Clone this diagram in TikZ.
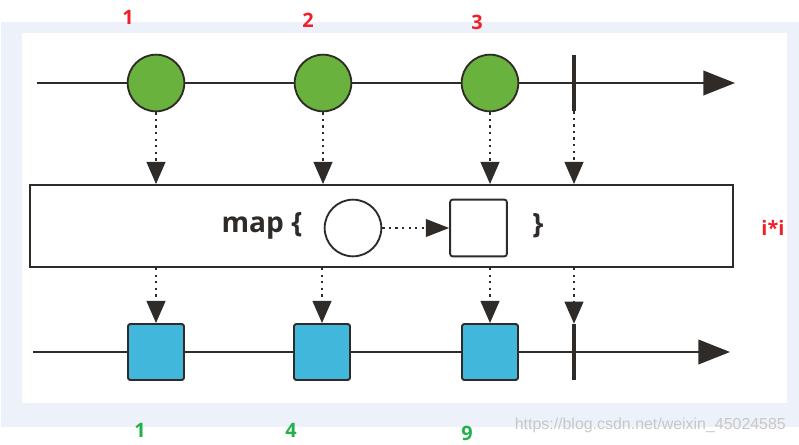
\documentclass[tikz,border=0pt]{standalone}
\usepackage{fontspec}
\setmainfont{Open Sans}
\newfontfamily\wmfont{Liberation Sans}
\usetikzlibrary{arrows.meta}

\definecolor{framebg}{HTML}{EDF2FA}
\definecolor{ink}{HTML}{2F2B28}
\definecolor{marblegreen}{HTML}{6AB23E}
\definecolor{itemblue}{HTML}{42B7DC}
\definecolor{numred}{HTML}{F0202A}
\definecolor{numgreen}{HTML}{22B14C}

\tikzset{
  timeline/.style={ink, line width=1.6pt, -{Triangle[length=27pt,width=21pt]}},
  flow/.style={ink, line width=2pt, dash pattern=on 2pt off 3.6pt, -{Triangle[length=19pt,width=16pt]}},
  marble/.style={circle, draw=ink, line width=1.6pt, fill=marblegreen, minimum size=1.7cm, inner sep=0pt},
  item/.style={rectangle, rounded corners=2pt, draw=ink, line width=1.6pt, fill=itemblue, minimum size=1.68cm, inner sep=0pt},
  stopbar/.style={rectangle, fill=ink, minimum width=4pt, minimum height=1.68cm, inner sep=0pt},
  toplabel/.style={text=numred, font=\fontsize{17}{20}\selectfont\bfseries},
  botlabel/.style={text=numgreen, font=\fontsize{17}{20}\selectfont\bfseries}
}

\begin{document}
\begin{tikzpicture}[x=0.03cm, y=-0.03cm]

  \useasboundingbox (0,0) rectangle (799,445);
  \fill[framebg] (1,22) rectangle (799,427);   %Rahmen
  \fill[white] (22,33) rectangle (787,403);    %weisse Flaeche

  % obere Zeitachse
  \coordinate (topstart) at (37,83);
  \coordinate (topend) at (735,83);
  \draw[timeline] (topstart) -- (topend);
  \foreach \x/\n in {156/1,323/2,490/3}
    \node[marble] (c\n) at (\x,83) {};
  \node[stopbar] (stoptop) at (574,83) {};

  % map-Kasten
  \node[draw=ink, line width=1.6pt, minimum width=21.09cm, minimum height=2.46cm, inner sep=0pt] (map) at (381.5,226) {};
  \node[font=\fontsize{24}{28}\selectfont\bfseries, text=ink] (mapword) at (262,226) {map \{};
  \node[circle, draw=ink, line width=1.6pt, fill=white, minimum size=1.7cm, inner sep=0pt] (inval) at (353,228) {};
  \node[rectangle, rounded corners=2pt, draw=ink, line width=1.6pt, fill=white, minimum size=1.7cm, inner sep=0pt] (outval) at (478.5,228) {};
  \node[font=\fontsize{24}{28}\selectfont\bfseries, text=ink] (closebrace) at (538,226) {\}};
  \draw[flow, -{Triangle[length=20pt,width=15pt]}] (inval) -- (outval);

  % untere Zeitachse
  \coordinate (botstart) at (33,352);
  \coordinate (botend) at (730,352);
  \draw[timeline] (botstart) -- (botend);
  \foreach \x/\n in {156/1,322/2,490/3}
    \node[item] (s\n) at (\x,352) {};
  \node[stopbar] (stopbot) at (574,352) {};

  % gepunktete Pfeile
  \foreach \n in {1,2,3}{
    \draw[flow] (c\n) -- (c\n |- map.north);
    \draw[flow] (map.south -| s\n) -- (s\n);
  }
  \draw[flow] (stoptop) -- (stoptop |- map.north);
  \draw[flow] (map.south -| stopbot) -- (stopbot);

  % Beschriftungen
  \node[toplabel] (n1) at (128,17) {1};
  \node[toplabel] (n2) at (308,20) {2};
  \node[toplabel] (n3) at (477,22) {3};
  \node[toplabel] (rule) at (773,228) {i*i};
  \node[botlabel] (m1) at (140,430) {1};
  \node[botlabel] (m4) at (291,430) {4};
  \node[botlabel] (m9) at (467,433) {9};
  \node[text=black!22, font=\wmfont\fontsize{13.6}{16}\selectfont, anchor=east] (mark) at (790,425) {https://blog.csdn.net/weixin\_45024585};

\end{tikzpicture}
\end{document}
